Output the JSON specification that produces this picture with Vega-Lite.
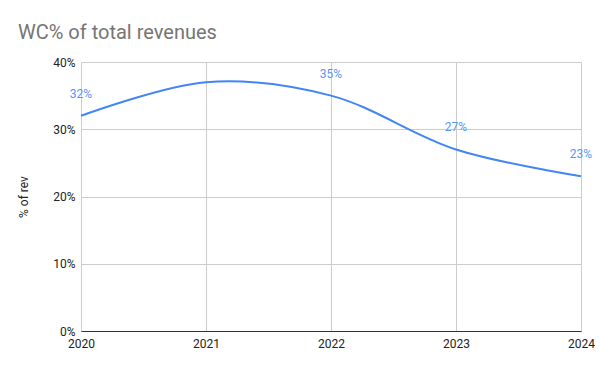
{
  "$schema": "https://vega.github.io/schema/vega-lite/v6.json",
  "width": 500,
  "height": 269,
  "autosize": {"type": "none"},
  "padding": {"left": 81, "top": 62, "right": 19, "bottom": 40},
  "background": "white",
  "title": {
    "text": "WC% of total revenues",
    "anchor": "start",
    "frame": "group",
    "dx": -63,
    "offset": 11,
    "font": "Roboto",
    "fontSize": 20,
    "fontWeight": "normal",
    "color": "#757575"
  },
  "config": {
    "view": {"stroke": null},
    "axis": {
      "labelFont": "Roboto",
      "labelFontSize": 12,
      "labelColor": "#222222",
      "titleFont": "Roboto",
      "titleFontWeight": "normal",
      "titleFontSize": 12,
      "titleColor": "#222222",
      "gridColor": "#cccccc",
      "ticks": false
    }
  },
  "data": {
    "values": [
      {"year": 2020, "value": 0.32, "label": "32%"},
      {"year": 2021, "value": 0.37, "label": ""},
      {"year": 2022, "value": 0.35, "label": "35%"},
      {"year": 2023, "value": 0.27, "label": "27%"},
      {"year": 2024, "value": 0.23, "label": "23%"}
    ]
  },
  "encoding": {
    "x": {
      "field": "year",
      "type": "quantitative",
      "scale": {"domain": [2020, 2024], "nice": false, "zero": false},
      "axis": {
        "title": null,
        "format": "d",
        "values": [2020, 2021, 2022, 2023, 2024],
        "domain": true,
        "domainColor": "#333333",
        "labelPadding": 7,
        "labelFlush": false
      }
    },
    "y": {
      "field": "value",
      "type": "quantitative",
      "scale": {"domain": [0, 0.4], "nice": false},
      "axis": {
        "title": "% of rev",
        "format": ".0%",
        "values": [0, 0.1, 0.2, 0.3, 0.4],
        "domain": false,
        "labelPadding": 6,
        "titlePadding": 22
      }
    }
  },
  "layer": [
    {
      "mark": {"type": "line", "interpolate": "catmull-rom", "color": "#4285F4", "strokeWidth": 2}
    },
    {
      "mark": {"type": "text", "dy": -22, "font": "Roboto", "fontSize": 12, "color": "#5b95f5"},
      "encoding": {"text": {"field": "label"}}
    }
  ]
}
